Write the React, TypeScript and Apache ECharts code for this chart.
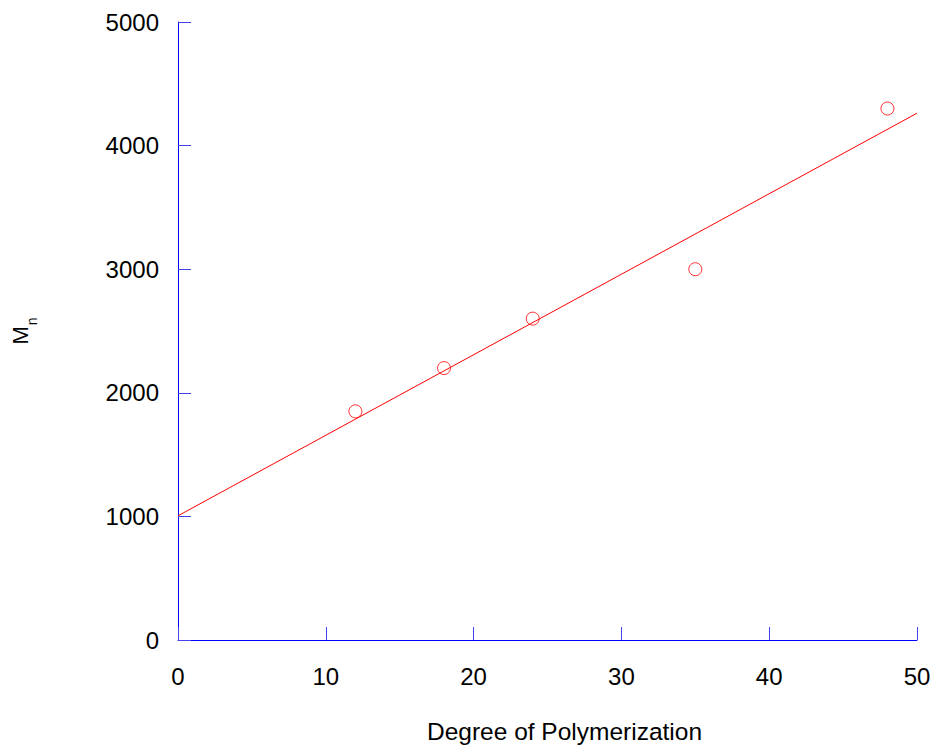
import React, { useEffect, useRef } from "react";
import * as echarts from "echarts";

const degree = [12, 18, 24, 35, 48];
const mn = [1850, 2200, 2600, 3000, 4300];
const fitX = [0, 50];
const fitY = [1005, 4262];
const xTicks = [0, 10, 20, 30, 40, 50];
const yTicks = [0, 1000, 2000, 3000, 4000, 5000];

export default function App() {
  const ref = useRef<HTMLDivElement>(null);
  useEffect(() => {
    if (!ref.current) return;
    const chart = echarts.init(ref.current, null, { renderer: "svg" });
    const font = "Liberation Sans, Arial, sans-serif";
    chart.setOption({
      animation: false,
      backgroundColor: "#ffffff",
      grid: { left: 178, right: 19, top: 22, bottom: 109, containLabel: false, outerBoundsMode: "none" },
      xAxis: {
        type: "value",
        min: xTicks[0],
        max: xTicks[xTicks.length - 1],
        interval: 10,
        name: "Degree of Polymerization",
        nameLocation: "middle",
        nameGap: 79,
        nameTextStyle: { fontFamily: font, fontSize: 24.5, color: "#000", padding: [0, 0, 0, 34] },
        axisLine: { show: true, onZero: false, lineStyle: { color: "#0000ff", width: 1 } },
        axisTick: { show: true, inside: true, length: 13, lineStyle: { color: "#4444ee", width: 1 } },
        axisLabel: { fontFamily: font, fontSize: 24, color: "#000", margin: 24 },
        splitLine: { show: false },
      },
      yAxis: {
        type: "value",
        min: yTicks[0],
        max: yTicks[yTicks.length - 1],
        interval: 1000,
        name: "{m|M}{n|n}",
        nameLocation: "middle",
        nameRotate: 90,
        nameGap: 147,
        nameTextStyle: {
          fontFamily: font,
          color: "#000",
          rich: {
            m: { fontFamily: font, fontSize: 22, color: "#000", verticalAlign: "bottom", lineHeight: 30 },
            n: { fontFamily: font, fontSize: 14, color: "#000", verticalAlign: "bottom", lineHeight: 30, padding: [0, 0, -8, 1] },
          },
        },
        axisLine: { show: true, onZero: false, lineStyle: { color: "#0000ff", width: 1 } },
        axisTick: { show: true, inside: true, length: 13, lineStyle: { color: "#4444ee", width: 1 } },
        axisLabel: { fontFamily: font, fontSize: 24, color: "#000", margin: 19, formatter: (v: number) => String(v) },
        splitLine: { show: false },
      },
      series: [
        {
          type: "line",
          data: fitX.map((x, i) => [x, fitY[i]]),
          showSymbol: false,
          symbol: "none",
          lineStyle: { color: "#ff0000", width: 1 },
          z: 2,
        },
        {
          type: "scatter",
          data: degree.map((x, i) => [x, mn[i]]),
          symbol: "circle",
          symbolSize: 13,
          itemStyle: { color: "rgba(255,255,255,0)", borderColor: "#ff0000", borderWidth: 1 },
          z: 3,
        },
      ],
    });
    return () => chart.dispose();
  }, []);
  return (
    <div
      ref={ref}
      style={{ position: "fixed", left: 0, top: 0, width: 936, height: 749, background: "#fff" }}
    />
  );
}
